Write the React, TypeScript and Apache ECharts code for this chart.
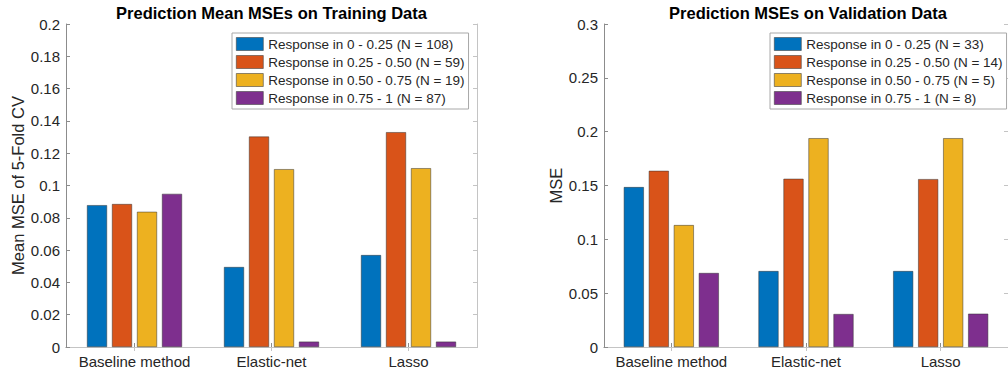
import React, { useEffect, useRef } from "react";
import * as echarts from "echarts";

const categories = ["Baseline method", "Elastic-net", "Lasso"];

const trainNames = [
  "Response in 0 - 0.25 (N = 108)",
  "Response in 0.25 - 0.50 (N = 59)",
  "Response in 0.50 - 0.75 (N = 19)",
  "Response in 0.75 - 1 (N = 87)",
];
const trainBlue = [0.0878, 0.0495, 0.0569];
const trainOrange = [0.0885, 0.1303, 0.133];
const trainYellow = [0.0837, 0.1101, 0.1107];
const trainPurple = [0.0948, 0.0033, 0.0033];

const validNames = [
  "Response in 0 - 0.25 (N = 33)",
  "Response in 0.25 - 0.50 (N = 14)",
  "Response in 0.50 - 0.75 (N = 5)",
  "Response in 0.75 - 1 (N = 8)",
];
const validBlue = [0.1485, 0.0705, 0.0705];
const validOrange = [0.1636, 0.1562, 0.1559];
const validYellow = [0.1132, 0.1939, 0.1939];
const validPurple = [0.0687, 0.0306, 0.0309];

const colors = ["#0072BD", "#D95319", "#EDB120", "#7E2F8E"];

const FONT = "'Liberation Sans', Arial, Helvetica, sans-serif";
const TXT = "#262626";
const AX_DARK = "#8c8c8c";
const AX_LIGHT = "#c4c4c4";

export default function App() {
  const ref = useRef<HTMLDivElement>(null);

  useEffect(() => {
    if (!ref.current) return;
    const chart = echarts.init(ref.current, null, { renderer: "svg" });

    const trainData = [trainBlue, trainOrange, trainYellow, trainPurple];
    const validData = [validBlue, validOrange, validYellow, validPurple];

    const makeBars = (names: string[], data: number[][], axisIdx: number) =>
      names.map((name, i) => ({
        name,
        type: "bar",
        xAxisIndex: axisIdx,
        yAxisIndex: axisIdx,
        data: data[i],
        barWidth: 20,
        barGap: "25%",
        itemStyle: { color: colors[i], borderColor: "#333", borderWidth: 0.5 },
        emphasis: { disabled: true },
      }));

    const bottomX = (gridIndex: number) => ({
      type: "category",
      gridIndex,
      data: categories,
      position: "bottom",
      axisLine: { lineStyle: { color: AX_DARK, width: 1 } },
      axisTick: { show: true, inside: true, alignWithLabel: true, length: 4, lineStyle: { color: AX_DARK } },
      axisLabel: { color: TXT, fontSize: 15, fontFamily: FONT, margin: 7, interval: 0 },
      splitLine: { show: false },
    });
    const topX = (gridIndex: number) => ({
      type: "category",
      gridIndex,
      data: categories,
      position: "top",
      axisLine: { lineStyle: { color: AX_LIGHT, width: 1 } },
      axisTick: { show: true, inside: true, alignWithLabel: true, length: 4, interval: 0, lineStyle: { color: AX_LIGHT } },
      axisLabel: { show: false },
      splitLine: { show: false },
    });
    const leftY = (gridIndex: number, max: number, interval: number, name: string) => ({
      type: "value",
      gridIndex,
      position: "left",
      min: 0,
      max,
      interval,
      name,
      nameLocation: "middle",
      nameGap: 40,
      nameTextStyle: { color: TXT, fontSize: 16.5, fontFamily: FONT },
      axisLine: { show: true, lineStyle: { color: AX_DARK, width: 1 } },
      axisTick: { show: true, inside: true, length: 4, lineStyle: { color: AX_DARK } },
      axisLabel: { color: TXT, fontSize: 15, fontFamily: FONT, margin: 6 },
      splitLine: { show: false },
    });
    const rightY = (gridIndex: number, max: number, interval: number) => ({
      type: "value",
      gridIndex,
      position: "right",
      min: 0,
      max,
      interval,
      axisLine: { show: true, lineStyle: { color: AX_LIGHT, width: 1 } },
      axisTick: { show: true, inside: true, length: 4, lineStyle: { color: AX_LIGHT } },
      axisLabel: { show: false },
      splitLine: { show: false },
    });

    const legendCommon = {
      orient: "vertical",
      selectedMode: false,
      itemWidth: 27,
      itemHeight: 13,
      itemGap: 4,
      padding: [4, 4, 4, 4],
      backgroundColor: "#ffffff",
      borderColor: "#a8a8a8",
      borderWidth: 1,
      borderRadius: 0,
      icon: "rect",
      itemStyle: { borderWidth: 0.6, borderColor: "#444" },
      textStyle: { color: TXT, fontSize: 13.5, fontFamily: FONT, lineHeight: 13 },
    };

    chart.setOption({
      animation: false,
      backgroundColor: "#ffffff",
      textStyle: { fontFamily: FONT },
      grid: [
        { left: 66, right: 1008 - 477, top: 24, bottom: 28 },
        { left: 604, right: -6, top: 24, bottom: 28 },
      ],
      xAxis: [bottomX(0), topX(0), bottomX(1), topX(1)],
      yAxis: [
        leftY(0, 0.2, 0.02, "Mean MSE of 5-Fold CV"),
        rightY(0, 0.2, 0.02),
        leftY(1, 0.3, 0.05, "MSE"),
        rightY(1, 0.3, 0.05),
      ],
      legend: [
        { ...legendCommon, data: trainNames, left: 232, top: 33 },
        { ...legendCommon, data: validNames, left: 770, top: 33 },
      ],
      graphic: [
        {
          type: "text",
          x: 271.5,
          y: 12.5,
          style: {
            text: "Prediction Mean MSEs on Training Data",
            textAlign: "center",
            textVerticalAlign: "middle",
            fill: "#000",
            font: `bold 16.5px ${FONT}`,
          },
        },
        {
          type: "text",
          x: 808,
          y: 12.5,
          style: {
            text: "Prediction MSEs on Validation Data",
            textAlign: "center",
            textVerticalAlign: "middle",
            fill: "#000",
            font: `bold 16.5px ${FONT}`,
          },
        },
      ],
      series: [...makeBars(trainNames, trainData, 0), ...makeBars(validNames, validData, 2)],
    });

    return () => chart.dispose();
  }, []);

  return (
    <div
      ref={ref}
      style={{ position: "absolute", left: 0, top: 0, width: 1008, height: 375, background: "#fff" }}
    />
  );
}
